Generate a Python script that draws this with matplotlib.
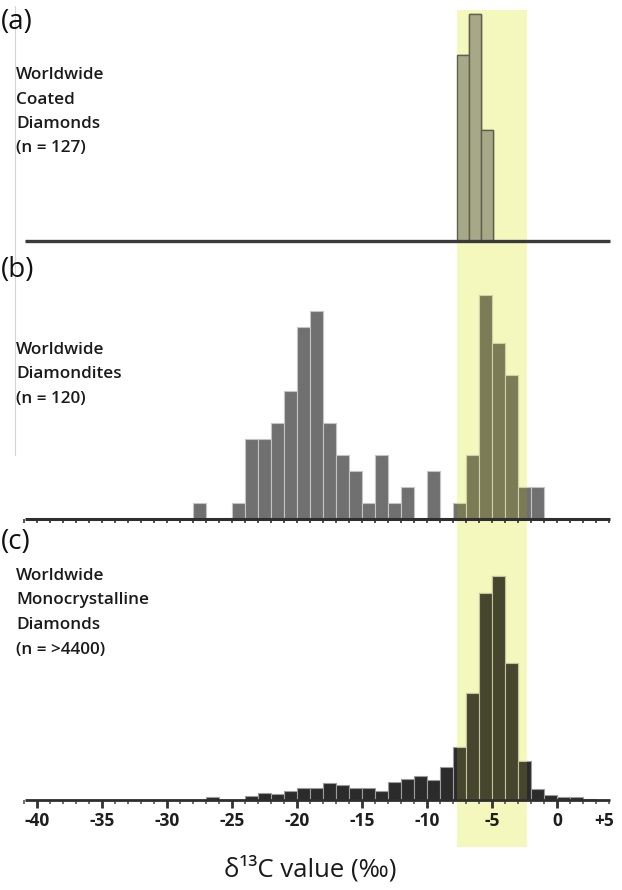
import matplotlib
matplotlib.use("Agg")
import matplotlib.pyplot as plt
from matplotlib.patches import Rectangle
from matplotlib.lines import Line2D
import numpy as np

plt.rcParams['font.family'] = ['Open Sans', 'DejaVu Sans']

# (a) coated diamonds: bin left edges (permil) and counts
a_left = [-7.7, -6.77, -5.84]
a_width = 0.93
a_counts = [45, 55, 27]

# (b) diamondites: 1 permil bins, left edges and counts
b_left = [-28, -25, -24, -23, -22, -21, -20, -19, -18, -17, -16, -15, -14, -13, -12, -10,
          -8, -7, -6, -5, -4, -3, -2]
b_counts = [1, 1, 5, 5, 6, 8, 12, 13, 6, 4, 3, 1, 4, 1, 2, 3,
            1, 4, 14, 11, 9, 2, 2]

# (c) monocrystalline diamonds: 1 permil bins, left edges and % of analyses
c_left = [-27, -24, -23, -22, -21, -20, -19, -18, -17, -16, -15, -14, -13, -12, -11, -10,
          -9, -8, -7, -6, -5, -4, -3, -2, -1, 0, 1, 2]
c_pct = [0.3, 0.4, 0.7, 0.6, 0.9, 1.2, 1.2, 1.7, 1.5, 1.2, 1.2, 0.9, 1.8, 2.1, 2.3, 2.0,
         3.2, 5.2, 10.5, 20.2, 21.9, 13.4, 3.8, 1.1, 0.5, 0.3, 0.3, 0.1]

tick_vals = [-40, -35, -30, -25, -20, -15, -10, -5, 0]
tick_text = ['-40', '-35', '-30', '-25', '-20', '-15', '-10', '-5', '0']

# typical mantle range, shaded
band_lo, band_hi = -7.7, -2.3

XMIN, XMAX = -42.85, 5.0
LINE_LO, LINE_HI = -40.9, 4.1
W, H = 622, 890
yellow = '#f4f8bd'

fig = plt.figure(figsize=(W / 100, H / 100), dpi=100)


def fx(px):
    return px / W


def fy(px):
    return 1 - px / H


def panel(base_px, top_px, ymax):
    ax = fig.add_axes([0, fy(base_px), 1, (base_px - top_px) / H])
    ax.set_xlim(XMIN, XMAX)
    ax.set_ylim(0, ymax)
    ax.patch.set_visible(False)
    for s in ax.spines.values():
        s.set_visible(False)
    ax.set_yticks([])
    return ax


def draw_bars(ax, left, heights, width, color, edge, tint, tint_edge, ymax, lw=0.8):
    ax.bar(left, heights, width=width, align='edge', color=color, edgecolor=edge,
           linewidth=lw, zorder=2)
    clip = Rectangle((band_lo, 0), band_hi - band_lo, ymax, transform=ax.transData)
    over = ax.bar(left, heights, width=width, align='edge', color=tint, edgecolor=tint_edge,
                  linewidth=lw, zorder=2.1)
    for p in over:
        p.set_clip_path(clip)


# yellow band behind everything
x0 = (band_lo - XMIN) / (XMAX - XMIN)
x1 = (band_hi - XMIN) / (XMAX - XMIN)
fig.patches.append(Rectangle((x0, fy(847)), x1 - x0, fy(10) - fy(847), transform=fig.transFigure,
                             facecolor=yellow, edgecolor='none', zorder=-1))
fig.lines.append(Line2D([fx(15), fx(15)], [fy(6), fy(455)], transform=fig.transFigure,
                        color='#d4d4d4', lw=0.8))

# (a)
ya = 56.0
ax_a = panel(241, 10, ya)
draw_bars(ax_a, a_left, a_counts, a_width, '#adadad', '#5e5e5e', '#a7a887', '#5f604a', ya, lw=1.0)
ax_a.hlines(0, LINE_LO, LINE_HI, color='#3a3a3a', lw=2.4, zorder=3, clip_on=False)
ax_a.set_xticks([])

# (b)
yb = 14.0
ax_b = panel(519, 295, yb)
draw_bars(ax_b, b_left, b_counts, 1.0, '#707070', '#c4c4c4', '#7b7b56', '#cfd1a6', yb)
ax_b.hlines(0, LINE_LO, LINE_HI, color='#2e2e2e', lw=2.2, zorder=3, clip_on=False)
ax_b.set_xticks(np.arange(-41, 5))
ax_b.tick_params(axis='x', length=3, width=1.2, color='#333333', labelbottom=False)

# (c)
yc = 23.46
ax_c = panel(800, 560, yc)
draw_bars(ax_c, c_left, c_pct, 1.0, '#2b2b2b', '#9c9c9c', '#46452e', '#c2c49a', yc)
ax_c.hlines(0, LINE_LO, LINE_HI, color='#2e2e2e', lw=2.0, zorder=3, clip_on=False)
ax_c.set_xticks(tick_vals + [3.6])
ax_c.set_xticklabels(tick_text + ['+5'], fontsize=12.5, fontweight='bold', color='#1e1e1e')
ax_c.xaxis.get_major_ticks()[-1].tick1line.set_visible(False)
ax_c.set_xticks([v for v in range(-41, 5) if v % 5 != 0], minor=True)
ax_c.tick_params(axis='x', which='major', length=6, width=2, color='#333333', pad=3)
ax_c.tick_params(axis='x', which='minor', length=3, width=1.2, color='#555555')

# panel letters and captions
labels = [('(a)', 8, ['Worldwide', 'Coated', 'Diamonds', '(n = 127)'], 67),
          ('(b)', 256, ['Worldwide', 'Diamondites', '(n = 120)'], 342),
          ('(c)', 528, ['Worldwide', 'Monocrystalline', 'Diamonds', '(n = >4400)'], 568)]
for letter, ly, lines, ty in labels:
    fig.text(fx(1), fy(ly), letter, fontsize=20, va='top', ha='left', color='#111111')
    for i, s in enumerate(lines):
        fig.text(fx(16), fy(ty + 24.5 * i), s, fontsize=12.3, fontweight='semibold',
                 va='top', ha='left', color='#1a1a1a')

fig.text(0.498, fy(869), 'δ¹³C value (‰)', fontsize=18.5, ha='center', va='center', color='#1a1a1a')

fig.savefig('out.png', dpi=100)
